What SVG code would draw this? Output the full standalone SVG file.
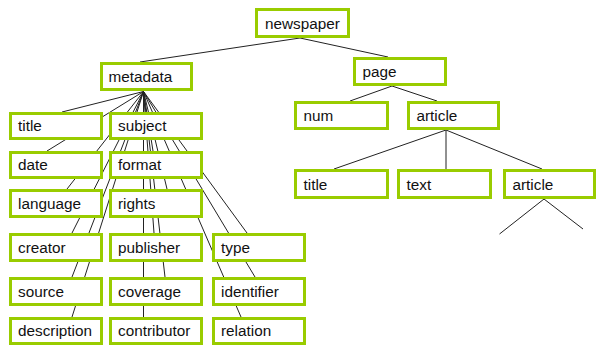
<svg xmlns="http://www.w3.org/2000/svg" width="597" height="347" viewBox="0 0 597 347">
  <style>
    .box rect { fill: #ffffff; stroke: #99cc00; stroke-width: 3; }
    .box text { font-family: "Liberation Sans", Arial, sans-serif; font-size: 15.3px; fill: #111111; }
    .links line { stroke: #222222; stroke-width: 1; fill: none; }
  </style>
  <rect width="597" height="347" fill="#ffffff"/>

  <!-- tree edges (drawn under the boxes) -->
  <g id="connectors" class="links">
    <line x1="300" y1="38" x2="140" y2="62"/>
    <line x1="300" y1="38" x2="388" y2="57"/>
    <!-- metadata fan -->
    <line x1="143.5" y1="91.5" x2="62" y2="112"/>
    <line x1="143.5" y1="91.5" x2="143.5" y2="112"/>
    <line x1="143.5" y1="91.5" x2="47" y2="151"/>
    <line x1="143.5" y1="91.5" x2="153" y2="151"/>
    <line x1="143.5" y1="91.5" x2="67" y2="189"/>
    <line x1="143.5" y1="91.5" x2="167" y2="189"/>
    <line x1="143.5" y1="91.5" x2="72" y2="233"/>
    <line x1="143.5" y1="91.5" x2="154" y2="233"/>
    <line x1="143.5" y1="91.5" x2="247" y2="233"/>
    <line x1="143.5" y1="91.5" x2="72" y2="277"/>
    <line x1="143.5" y1="91.5" x2="165" y2="277"/>
    <line x1="143.5" y1="91.5" x2="255" y2="277"/>
    <line x1="143.5" y1="91.5" x2="72" y2="317"/>
    <line x1="143.5" y1="91.5" x2="143.5" y2="317"/>
    <line x1="143.5" y1="91.5" x2="241" y2="317"/>
    <!-- page subtree -->
    <line x1="392" y1="86" x2="350" y2="101"/>
    <line x1="392" y1="86" x2="437" y2="101"/>
    <line x1="446" y1="130" x2="334" y2="169"/>
    <line x1="446" y1="130" x2="446" y2="169"/>
    <line x1="446" y1="130" x2="542" y2="169"/>
    <line x1="544" y1="199" x2="499.5" y2="234"/>
    <line x1="544" y1="199" x2="583" y2="229"/>
  </g>

  <g id="newspaper" class="box"><rect x="256.5" y="9.5" width="92" height="27"/><text x="265" y="28.5">newspaper</text></g>
  <g id="metadata" class="box"><rect x="101.5" y="63.5" width="90" height="26"/><text x="108.5" y="82">metadata</text></g>
  <g id="page" class="box"><rect x="354.5" y="58.5" width="91" height="26"/><text x="362.5" y="77">page</text></g>
  <g id="num" class="box"><rect x="295.5" y="102.5" width="92" height="26"/><text x="303.5" y="121">num</text></g>
  <g id="article" class="box"><rect x="408.5" y="102.5" width="90" height="26"/><text x="416.5" y="121">article</text></g>
  <g id="article-title" class="box"><rect x="295.5" y="170.5" width="92" height="27"/><text x="303.5" y="189.5">title</text></g>
  <g id="article-text" class="box"><rect x="398.5" y="170.5" width="92" height="27"/><text x="406.5" y="189.5">text</text></g>
  <g id="article-article" class="box"><rect x="504.5" y="170.5" width="90" height="27"/><text x="512.5" y="189.5">article</text></g>

  <!-- metadata children, column 1 -->
  <g id="title" class="box"><rect x="10.5" y="113.5" width="91" height="25"/><text x="18" y="131">title</text></g>
  <g id="date" class="box"><rect x="10.5" y="152.5" width="91" height="25"/><text x="18" y="170">date</text></g>
  <g id="language" class="box"><rect x="10.5" y="190.5" width="91" height="26"/><text x="18" y="208.5">language</text></g>
  <g id="creator" class="box"><rect x="10.5" y="234.5" width="91" height="26"/><text x="18" y="252.5">creator</text></g>
  <g id="source" class="box"><rect x="10.5" y="278.5" width="91" height="26"/><text x="18" y="296.5">source</text></g>
  <g id="description" class="box"><rect x="10.5" y="318.5" width="91" height="25"/><text x="18" y="336">description</text></g>

  <!-- column 2 -->
  <g id="subject" class="box"><rect x="110.5" y="113.5" width="91" height="25"/><text x="118" y="131">subject</text></g>
  <g id="format" class="box"><rect x="110.5" y="152.5" width="91" height="25"/><text x="118" y="170">format</text></g>
  <g id="rights" class="box"><rect x="110.5" y="190.5" width="91" height="26"/><text x="118" y="208.5">rights</text></g>
  <g id="publisher" class="box"><rect x="110.5" y="234.5" width="91" height="26"/><text x="118" y="252.5">publisher</text></g>
  <g id="coverage" class="box"><rect x="110.5" y="278.5" width="91" height="26"/><text x="118" y="296.5">coverage</text></g>
  <g id="contributor" class="box"><rect x="110.5" y="318.5" width="91" height="25"/><text x="118" y="336">contributor</text></g>

  <!-- column 3 -->
  <g id="type" class="box"><rect x="213.5" y="234.5" width="91" height="26"/><text x="221" y="252.5">type</text></g>
  <g id="identifier" class="box"><rect x="213.5" y="278.5" width="91" height="26"/><text x="221" y="296.5">identifier</text></g>
  <g id="relation" class="box"><rect x="213.5" y="318.5" width="91" height="25"/><text x="221" y="336">relation</text></g>
</svg>
